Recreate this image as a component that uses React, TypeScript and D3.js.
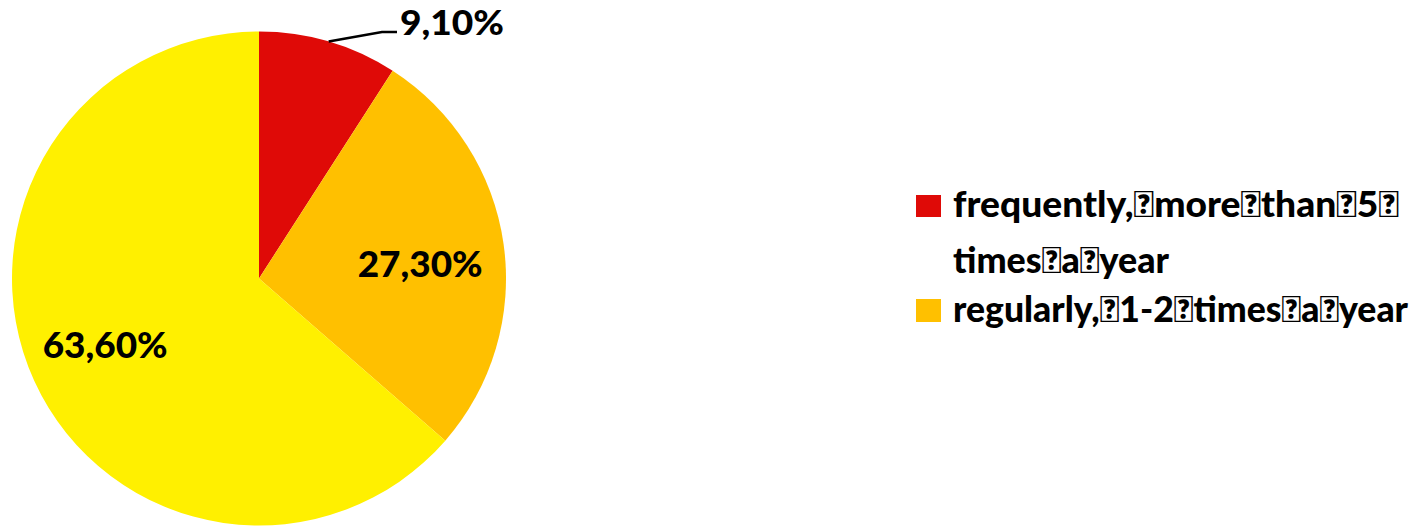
import React from "react";
import * as d3 from "d3";

const categories = ["frequently,\uF020more\uF020than\uF0205\uF020times\uF020a\uF020year", "regularly,\uF0201-2\uF020times\uF020a\uF020year", "other"];
const values = [9.1, 27.3, 63.6];
const labels = ["9,10%", "27,30%", "63,60%"];
const colors = ["#DF0A07", "#FFC000", "#FFF000"];
const legendLines = [
  ["frequently,\uF020more\uF020than\uF0205\uF020", "times\uF020a\uF020year"],
  ["regularly,\uF0201-2\uF020times\uF020a\uF020year"],
];

const W = 1427, H = 526;
const cx = 259, cy = 278.5, R = 247;
const FONT = "Lato, 'Open Sans', sans-serif";

export default function App() {
  const data = categories.map((c, i) => ({ c, v: values[i], label: labels[i], color: colors[i] }));
  const pie = d3.pie<any>().sort(null).value((d: any) => d.v);
  const arcs = pie(data);
  const arc = d3.arc<any>().innerRadius(0).outerRadius(R);
  const labelArc = d3.arc<any>().innerRadius(R * 0.7).outerRadius(R * 0.7);

  const c1 = labelArc.centroid(arcs[1]);
  const c2 = labelArc.centroid(arcs[2]);
  const pos = [
    { x: 452, y: 35 },
    { x: cx + c1[0] - 10, y: cy + c1[1] + 23 },
    { x: cx + c2[0] + 3.5, y: cy + c2[1] + 8 },
  ];
  const mid0 = (arcs[0].startAngle + arcs[0].endAngle) / 2;
  const lp0 = [Math.sin(mid0) * R, -Math.cos(mid0) * R];

  return (
    <svg width={W} height={H} style={{ position: "absolute", left: 0, top: 0 }}>
      <rect width={W} height={H} fill="#fff" />
      <g transform={`translate(${cx},${cy})`}>
        {arcs.map((a, i) => (
          <path key={i} d={arc(a) as string} fill={a.data.color} />
        ))}
      </g>
      <polyline
        points={`${cx + lp0[0]},${cy + lp0[1]} 382,32 397,32`}
        fill="none"
        stroke="#000"
        strokeWidth={2.5}
      />
      {pos.map((p, i) => (
        <text key={i} x={p.x} y={p.y} textAnchor="middle" fontFamily={FONT} fontWeight={900} fontSize={i === 0 ? 35 : 36}
          textLength={i === 0 ? 104 : 125} lengthAdjust="spacingAndGlyphs" fill="#000">
          {labels[i]}
        </text>
      ))}
      <rect x={916} y={195} width={25} height={22} fill={colors[0]} />
      <rect x={916} y={299} width={25} height={23} fill={colors[1]} />
      <text x={953} y={217} fontFamily={FONT} fontWeight={900} fontSize={36} textLength={446} lengthAdjust="spacingAndGlyphs">{legendLines[0][0]}</text>
      <text x={953} y={273} fontFamily={FONT} fontWeight={900} fontSize={36} textLength={216} lengthAdjust="spacingAndGlyphs">{legendLines[0][1]}</text>
      <text x={953} y={322} fontFamily={FONT} fontWeight={900} fontSize={36} textLength={455} lengthAdjust="spacingAndGlyphs">{legendLines[1][0]}</text>
    </svg>
  );
}
